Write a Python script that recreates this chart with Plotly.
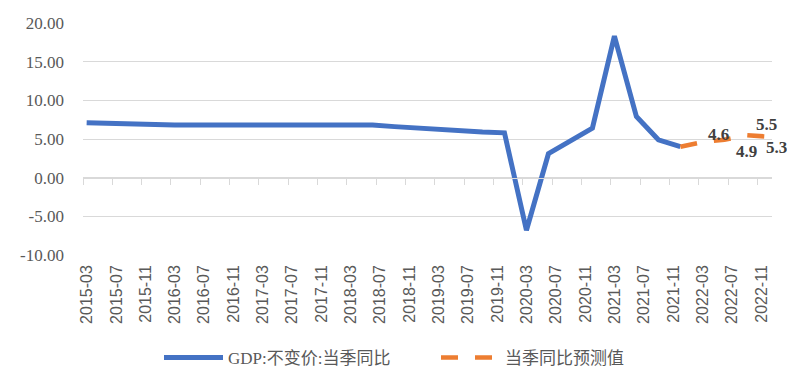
import plotly.graph_objects as go

# ---------------- data ----------------
hist_dates = [
    "2015-03", "2015-06", "2015-09", "2015-12",
    "2016-03", "2016-06", "2016-09", "2016-12",
    "2017-03", "2017-06", "2017-09", "2017-12",
    "2018-03", "2018-06", "2018-09", "2018-12",
    "2019-03", "2019-06", "2019-09", "2019-12",
    "2020-03", "2020-06", "2020-09", "2020-12",
    "2021-03", "2021-06", "2021-09", "2021-12",
]
gdp_yoy = [
    7.1, 7.0, 6.9, 6.8,
    6.8, 6.8, 6.8, 6.8,
    6.9, 6.9, 6.9, 6.8,
    6.8, 6.8, 6.6, 6.4,
    6.3, 6.0, 5.9, 5.8,
    -6.8, 3.1, 4.8, 6.4,
    18.3, 7.9, 4.9, 4.0,
]
fc_dates = ["2021-12", "2022-03", "2022-06", "2022-09", "2022-12"]
fc_values = [4.0, 4.6, 4.9, 5.5, 5.3]
fc_labels = ["", "4.6", "4.9", "5.5", "5.3"]

tick_labels_x = [
    "2015-03", "2015-07", "2015-11", "2016-03", "2016-07", "2016-11",
    "2017-03", "2017-07", "2017-11", "2018-03", "2018-07", "2018-11",
    "2019-03", "2019-07", "2019-11", "2020-03", "2020-07", "2020-11",
    "2021-03", "2021-07", "2021-11", "2022-03", "2022-07", "2022-11",
]
y_tick_vals = [-10, -5, 0, 5, 10, 15, 20]
y_tick_text = ["-10.00", "-5.00", "0.00", "5.00", "10.00", "15.00", "20.00"]

series_names = ["GDP:不变价:当季同比", "当季同比预测值"]

# ---------------- helpers ----------------
def month_index(s):
    y, m = s.split("-")
    return (int(y) - 2015) * 12 + (int(m) - 3)

hx = [month_index(d) for d in hist_dates]
fx = [month_index(d) for d in fc_dates]
tick_pos = [month_index(d) - 0.5 for d in tick_labels_x]

BLUE = "#4472C4"
ORANGE = "#ED7D31"
GRAY_TXT = "#595959"
GRID = "#D9D9D9"
SERIF_CJK = "Liberation Serif, 'Noto Sans CJK SC', serif"

# page has an 8px body margin; figure is sized so it ends at the window edge
W, H = 787, 379
OFF = 8

fig = go.Figure()
fig.add_trace(go.Scatter(
    x=hx, y=gdp_yoy, mode="lines", name=series_names[0],
    line=dict(color=BLUE, width=5), hoverinfo="skip",
))
fig.add_trace(go.Scatter(
    x=fx, y=fc_values, mode="lines", name=series_names[1],
    line=dict(color=ORANGE, width=4.5, dash="17px,17px"), hoverinfo="skip",
))
# axis at y = 0 with tick marks (Excel style)
fig.add_trace(go.Scatter(
    x=[hx[0]], y=[0], xaxis="x2", yaxis="y", mode="markers",
    marker=dict(opacity=0), showlegend=False, hoverinfo="skip",
))

# data labels
shifts = [(0, 0), (16, 8), (22, -12), (20, 11), (8, -11)]
for xv, yv, lab, (dx, dy) in zip(fx, fc_values, fc_labels, shifts):
    if not lab:
        continue
    fig.add_annotation(
        x=xv, y=yv, text=lab, showarrow=False, xshift=dx, yshift=dy,
        font=dict(family="Liberation Serif, serif", size=17, color="#404040", weight="bold"),
    )

xr = [-0.5, 93.5]
fig.update_layout(
    width=W, height=H,
    margin=dict(l=83 - OFF, r=23, t=23 - OFF, b=132, autoexpand=False),
    paper_bgcolor="white", plot_bgcolor="white",
    xaxis=dict(
        range=xr, tickmode="array", tickvals=tick_pos, ticktext=tick_labels_x,
        tickangle=-90, ticks="", showgrid=False, zeroline=False, showline=False,
        ticklabelshift=4, ticklabelstandoff=6, automargin=False,
        tickfont=dict(family="Liberation Sans, sans-serif", size=16, color=GRAY_TXT),
    ),
    xaxis2=dict(
        range=xr, overlaying="x", anchor="free", position=1/3,
        tickmode="array", tickvals=tick_pos, showticklabels=False,
        ticks="outside", ticklen=6, tickcolor=GRID, tickwidth=1,
        showline=True, linecolor=GRID, linewidth=1, showgrid=False, zeroline=False,
        automargin=False,
    ),
    yaxis=dict(
        range=[-10, 20], tickmode="array", tickvals=y_tick_vals, ticktext=y_tick_text,
        showgrid=True, gridcolor=GRID, gridwidth=1, zeroline=False, ticks="",
        ticklabelstandoff=18, automargin=False,
        tickfont=dict(family="Liberation Serif, serif", size=17, color=GRAY_TXT),
    ),
    legend=dict(
        orientation="h", xref="container", yref="container",
        x=(167 - OFF - 8) / W, xanchor="left", y=1 - (358 - OFF) / H, yanchor="middle",
        itemwidth=59, entrywidth=203, entrywidthmode="pixels",
        font=dict(family=SERIF_CJK, size=17, color=GRAY_TXT),
        bgcolor="rgba(0,0,0,0)",
    ),
    showlegend=True,
)

fig.write_html("out.html")
